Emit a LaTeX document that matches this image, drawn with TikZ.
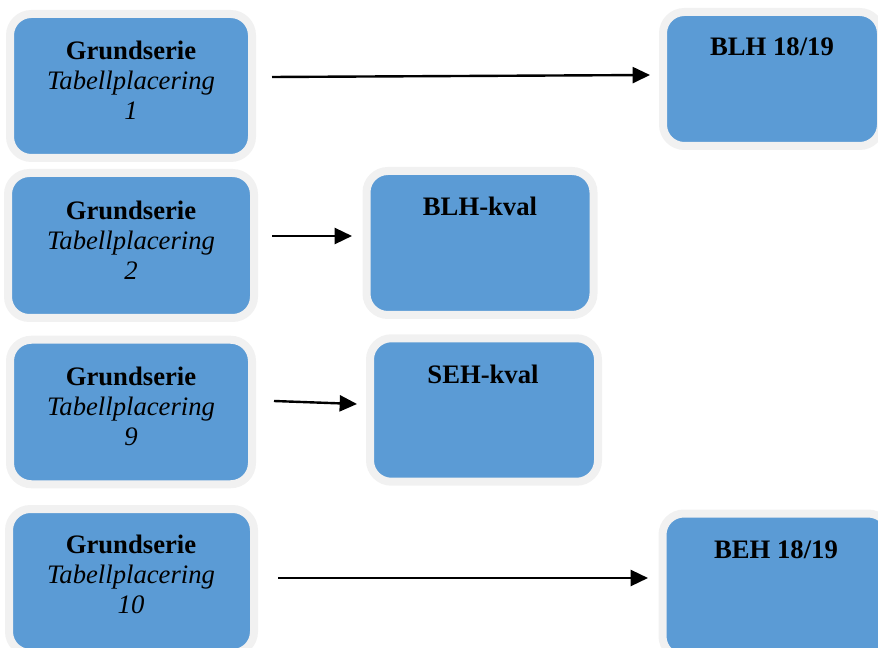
\documentclass[tikz,border=0pt]{standalone}
\usepackage{fontspec}
\setmainfont{Liberation Serif}
\usetikzlibrary{arrows.meta,calc}
\definecolor{boxblue}{HTML}{5B9BD5}
\definecolor{rimgray}{HTML}{F1F1F1}
\tikzset{
  box/.style={rectangle, draw=rimgray, line width=6pt, fill=boxblue,
    rounded corners=16pt, inner sep=0pt, outer sep=0pt},
  txt/.style={inner sep=0pt, align=center, font=\fontsize{20}{22.5}\selectfont},
  arr/.style={-{Triangle[length=13pt,width=12pt]}, line width=1.8pt, black}
}
\begin{document}
\begin{tikzpicture}[x=0.75pt,y=-0.75pt]
\useasboundingbox (0,0) rectangle (878,648);
\clip (0,0) rectangle (878,648);
% left boxes
\node[box, minimum width=181.5pt, minimum height=108pt] (g1) at (131,86) {};
\node[box, minimum width=184.5pt, minimum height=108.75pt] (g2) at (131,245.5) {};
\node[box, minimum width=181.5pt, minimum height=108.4pt] (g3) at (131,412) {};
\node[box, minimum width=183.75pt, minimum height=108pt] (g4) at (131.5,581) {};
% target boxes
\node[box, minimum width=163.5pt, minimum height=100.5pt] (b1) at (772,79) {};
\node[box, minimum width=170.25pt, minimum height=108pt] (bk) at (480,243) {};
\node[box, minimum width=171pt, minimum height=107.6pt] (sk) at (484,410) {};
\node[box, minimum width=170.25pt, minimum height=108pt] (b4) at (776,585.5) {};
% texts
\node[txt] (t1) at (131,80) {\textbf{Grundserie}\\\textit{Tabellplacering}\\\textit{1}};
\node[txt] (t2) at (131,240) {\textbf{Grundserie}\\\textit{Tabellplacering}\\\textit{2}};
\node[txt] (t3) at (131,406) {\textbf{Grundserie}\\\textit{Tabellplacering}\\\textit{9}};
\node[txt] (t4) at (131,574) {\textbf{Grundserie}\\\textit{Tabellplacering}\\\textit{10}};
\node[txt, anchor=base] (tb1) at (772,56) {\textbf{BLH 18/19}};
\node[txt, anchor=base] (tbk) at (480,216) {\textbf{BLH-kval}};
\node[txt, anchor=base] (tsk) at (483,383) {\textbf{SEH-kval}};
\node[txt, anchor=base] (tb4) at (776,558) {\textbf{BEH 18/19}};
% arrows
\draw[arr] ($(g1.east)+(20,-9)$) -- ($(b1.west)+(-13,-4)$);
\draw[arr] ($(g2.east)+(18,-9.5)$) -- ($(bk.west)+(-14.5,-7)$);
\draw[arr] ($(g3.east)+(22,-11)$) -- ($(sk.west)+(-13,-6)$);
\draw[arr] ($(g4.east)+(24,-3)$) -- ($(b4.west)+(-14.5,-7.5)$);
\end{tikzpicture}
\end{document}
